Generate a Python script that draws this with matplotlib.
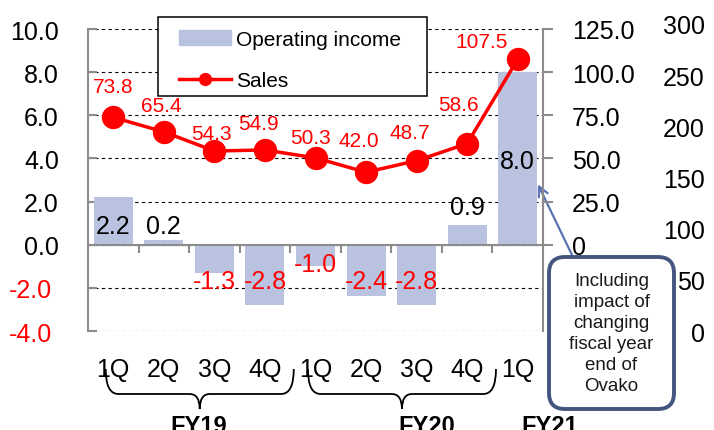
import numpy as np
import matplotlib
matplotlib.use("Agg")
import matplotlib.pyplot as plt
import matplotlib.transforms as mtransforms
from matplotlib.patches import FancyBboxPatch, Rectangle, PathPatch
from matplotlib.path import Path
from matplotlib.lines import Line2D

plt.rcParams["font.family"] = ["Liberation Sans", "DejaVu Sans"]

# ---------------------- Data ----------------------
quarters = ["1Q", "2Q", "3Q", "4Q", "1Q", "2Q", "3Q", "4Q", "1Q"]
fiscal_years = ["FY19", "FY20", "FY21"]
operating_income = [2.2, 0.2, -1.3, -2.8, -1.0, -2.4, -2.8, 0.9, 8.0]
sales = [73.8, 65.4, 54.3, 54.9, 50.3, 42.0, 48.7, 58.6, 107.5]

left_ticks = [-4, -2, 0, 2, 4, 6, 8, 10]
right_ticks = [0, 25, 50, 75, 100, 125]
far_ticks = [0, 50, 100, 150, 200, 250, 300]

note = "Including\nimpact of\nchanging\nfiscal year\nend of\nOvako"

# ---------------------- Label placement ----------------------
sales_label_off = [(0, 31), (-3, 26), (-3, 18), (-6, 26), (-5, 20),
                   (-7, 32), (-7, 28), (-9, 39), (-36, 18)]   # pixels
oi_label_y = [0.87, 0.87, -1.69, -1.69, -0.89, -1.69, -1.69, 1.75, 3.87]
brace_groups = [(0, 3), (4, 7)]
fy_label_x = [1.68, 6.2, 8.64]

BAR = "#B9C3E0"
RED = "#FF0000"
GRAY = "#8C8C8C"

W, H = 714, 431
fig = plt.figure(figsize=(W / 100, H / 100), dpi=100)


def px(x0, y0, x1, y1):
    # pixel box (top-left origin) -> figure fraction rect
    return [x0 / W, 1 - y1 / H, (x1 - x0) / W, (y1 - y0) / H]


ax = fig.add_axes(px(88, 30, 543, 332))
ax2 = ax.twinx()
ax3 = fig.add_axes(px(88, 25, 543, 332))

x = np.arange(len(quarters))

# ---------------------- Bars (left axis) ----------------------
ax.bar(x, operating_income, width=0.77, color=BAR, zorder=1)
ax.set_xlim(-0.5, len(quarters) - 0.5)
ax.set_ylim(-4, 10)
ax.set_axisbelow(True)
ax.yaxis.grid(True, linestyle=(0, (3, 3)), color="black", lw=0.8)

for i, v in enumerate(operating_income):
    ax.text(i, oi_label_y[i], f"{v:.1f}", ha="center", va="center",
            fontsize=18, color=RED if v < 0 else "black", zorder=4)

ax.set_yticks(left_ticks, [f"{v:.1f}" for v in left_ticks])
ax.tick_params(axis="y", direction="in", length=6.5, width=1.5, color=GRAY,
               pad=21, labelsize=18)
shift = mtransforms.ScaledTranslation(-7 / 100, 0, fig.dpi_scale_trans)
for lbl, v in zip(ax.get_yticklabels(), left_ticks):
    if v < 0:
        lbl.set_color(RED)
        lbl.set_transform(lbl.get_transform() + shift)

ax.spines["bottom"].set_position(("data", 0))
ax.spines["bottom"].set_color(GRAY)
ax.spines["bottom"].set_linewidth(1.5)
ax.spines["left"].set_color(GRAY)
ax.spines["left"].set_linewidth(1.5)
ax.spines["top"].set_visible(False)
ax.spines["right"].set_visible(False)

ax.set_xticks(x, quarters)
ax.set_xticks(np.arange(0.5, len(quarters) - 1, 1), minor=True)
ax.tick_params(axis="x", which="major", length=0, pad=81, labelsize=18)
ax.tick_params(axis="x", which="minor", direction="out", length=5.8,
               width=1.5, color=GRAY)

# ---------------------- Sales line (right axis) ----------------------
ax2.plot(x, sales, color=RED, lw=2.5, marker="o", ms=15.8, zorder=3)
ax2.set_ylim(-50, 125)
ax2.set_yticks(right_ticks, ["0" if v == 0 else f"{v:.1f}" for v in right_ticks])
ax2.tick_params(axis="y", direction="out", length=7.2, width=1.5, color=GRAY,
                pad=13.7, labelsize=18)
for s in ["left", "top", "bottom"]:
    ax2.spines[s].set_visible(False)
ax2.spines["right"].set_color(GRAY)
ax2.spines["right"].set_linewidth(1.5)

for i, v in enumerate(sales):
    ax2.annotate(f"{v:.1f}", (i, v), xytext=sales_label_off[i],
                 textcoords="offset pixels", ha="center", va="center",
                 fontsize=15, color=RED)

# ---------------------- Leftover far-right scale ----------------------
ax3.set_ylim(0, 300)
ax3.set_yticks(far_ticks, [str(v) for v in far_ticks])
ax3.yaxis.tick_right()
ax3.tick_params(axis="y", length=0, pad=116.6, labelsize=18)
for lbl in ax3.get_yticklabels():
    lbl.set_ha("right")
ax3.set_xticks([])
ax3.patch.set_visible(False)
for s in ax3.spines.values():
    s.set_visible(False)

# ---------------------- Legend ----------------------
fig.add_artist(Rectangle((158 / W, 1 - 97 / H), (427 - 158) / W, (97 - 18) / H,
                         transform=fig.transFigure, facecolor="white",
                         edgecolor="black", lw=1.1, zorder=4))
handles = [Rectangle((0, 0), 1, 1, color=BAR),
           Line2D([], [], color=RED, lw=2.5, marker="o", ms=8.5)]
fig.legend(handles, ["Operating income", "Sales"], loc="upper left",
           bbox_to_anchor=(166 / W, 1 - 18 / H), frameon=False, fontsize=15,
           handlelength=2.5, handletextpad=0.25, labelspacing=1.08,
           borderpad=0.1)

# ---------------------- Braces and fiscal years ----------------------
bt = mtransforms.blended_transform_factory(ax.transData, fig.transFigure)
yt, ym, yb = 1 - 370 / H, 1 - 395 / H, 1 - 410 / H
for a, b in brace_groups:
    x0, x1 = a - 0.15, b + 0.57
    xc = (x0 + x1) / 2
    r, rm = 0.25, 0.2
    verts = [(x0, yt), (x0, ym), (x0 + r, ym), (xc - rm, ym), (xc, ym), (xc, yb),
             (xc, ym), (xc + rm, ym), (x1 - r, ym), (x1, ym), (x1, yt)]
    codes = [Path.MOVETO, Path.CURVE3, Path.CURVE3, Path.LINETO, Path.CURVE3,
             Path.CURVE3, Path.CURVE3, Path.CURVE3, Path.LINETO, Path.CURVE3,
             Path.CURVE3]
    fig.add_artist(PathPatch(Path(verts, codes), transform=bt, fill=False,
                             lw=1.3, edgecolor="black"))

for lx, lab in zip(fy_label_x, fiscal_years):
    fig.text(lx, 1 - 415 / H, lab, transform=bt, ha="center", va="top",
             fontsize=17, fontweight="bold")

# ---------------------- Note box with arrow ----------------------
fig.add_artist(FancyBboxPatch((549 / 100, (H - 410) / 100), 1.25, 1.52,
                              boxstyle="round,pad=0,rounding_size=0.16",
                              transform=fig.dpi_scale_trans, facecolor="white",
                              edgecolor="#44557F", lw=2.8, zorder=4))
fig.text(611.5 / W, 1 - 334 / H, note, ha="center", va="center", fontsize=13.5,
         linespacing=1.3, color="#1A1A1A", zorder=5)
ax.annotate("", xy=(8.4, 2.8), xycoords="data",
            xytext=(573 / W, 1 - 258 / H), textcoords="figure fraction",
            arrowprops=dict(arrowstyle="->,head_length=0.7,head_width=0.35",
                            color="#5A72B4", lw=1.6, shrinkA=0, shrinkB=0),
            annotation_clip=False, zorder=5)

fig.savefig("out.png", dpi=100)
